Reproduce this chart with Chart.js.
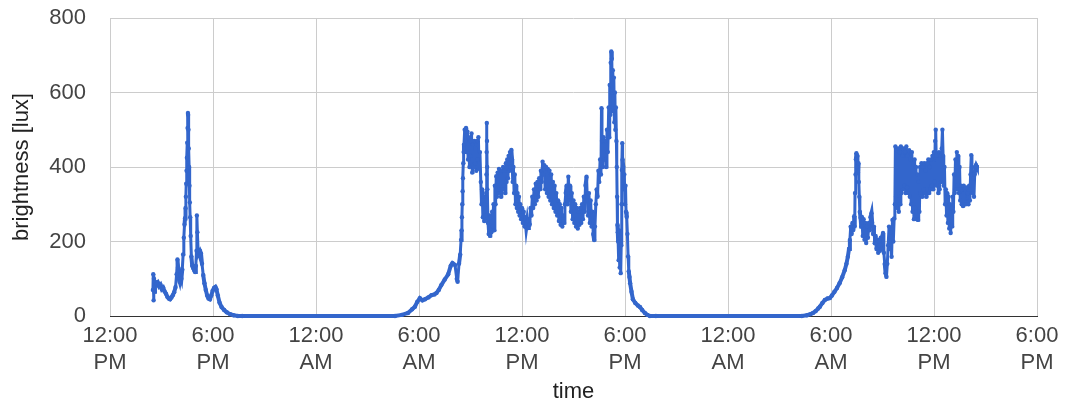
<!DOCTYPE html>
<html>
<head>
<meta charset="utf-8">
<script src="https://cdn.jsdelivr.net/npm/chart.js@4/dist/chart.umd.min.js"></script>
<style>
  html, body { margin: 0; padding: 0; background: #fff; }
  #wrap { width: 1065px; height: 408px; }
</style>
</head>
<body>
<div id="wrap"><canvas id="luxChart" width="1065" height="408"></canvas></div>
<script>
"use strict";

// hours since 12:00 PM of the first day, and brightness in lux
const day1Hours = [2.50, 2.52, 2.54, 2.56, 2.58, 2.62, 2.70, 2.78, 2.86, 2.94, 3.02, 3.10, 3.18, 3.26, 3.34, 3.42, 3.50, 3.58, 3.66, 3.74,
  3.82, 3.88, 3.93, 3.97, 4.01, 4.06, 4.11, 4.16, 4.21, 4.26, 4.30, 4.34, 4.37, 4.40, 4.42, 4.44, 4.46, 4.48, 4.50, 4.52,
  4.54, 4.55, 4.57, 4.59, 4.61, 4.63, 4.65, 4.67, 4.70, 4.74, 4.79, 4.85, 4.91, 4.96, 5.00, 5.04, 5.06, 5.09, 5.13, 5.18,
  5.24, 5.30, 5.36, 5.43, 5.50, 5.58, 5.66, 5.74, 5.82, 5.90, 5.98, 6.06, 6.14, 6.20, 6.28, 6.38, 6.50, 6.65, 6.80, 7.00,
  7.20, 7.45, 7.70];
const day1Lux = [70, 112, 42, 100, 65, 92, 86, 90, 80, 84, 72, 76, 66, 60, 52, 47, 45, 50, 56, 64,
  78, 112, 152, 130, 100, 92, 108, 100, 125, 165, 210, 245, 262, 290, 320, 355, 390, 425, 465, 505,
  545, 540, 500, 450, 400, 350, 305, 265, 215, 160, 135, 128, 122, 118, 135, 175, 270, 225, 178, 170,
  175, 168, 140, 110, 88, 70, 55, 47, 45, 55, 68, 75, 78, 72, 55, 36, 24, 16, 10, 5,
  2, 0, 0];

const day2Hours = [16.6, 17.0, 17.36, 17.6, 17.76, 17.9, 18.05, 18.2, 18.35, 18.55, 18.73, 18.9, 19.02, 19.15, 19.3, 19.5, 19.7, 19.85, 19.95, 20.1,
  20.2, 20.25, 20.33, 20.4, 20.45, 20.48, 20.50, 20.52, 20.54, 20.56, 20.58, 20.60, 20.62,
  20.66, 20.70, 20.74, 20.78, 20.82, 20.86, 20.90, 20.94, 20.98, 21.02, 21.06, 21.10, 21.14, 21.18, 21.22, 21.26, 21.30, 21.34, 21.38, 21.42, 21.46, 21.50, 21.55,
  21.60, 21.64, 21.68, 21.72, 21.76, 21.80, 21.84, 21.88, 21.92, 21.93, 21.94, 21.95, 21.96, 21.97, 21.98,
  22.02, 22.06, 22.10, 22.14, 22.18, 22.22, 22.26, 22.30,
  22.34, 22.38, 22.42, 22.46, 22.50, 22.54, 22.58, 22.62, 22.66, 22.70, 22.74, 22.78, 22.82, 22.86, 22.90, 22.94, 22.98, 23.02, 23.06, 23.10,
  23.14, 23.18, 23.22, 23.26, 23.30, 23.34, 23.38, 23.42,
  23.46, 23.50, 23.54, 23.58, 23.62, 23.66, 23.70, 23.74, 23.78, 23.82, 23.86, 23.90, 23.95, 24.00, 24.05, 24.10, 24.15, 24.20, 24.25, 24.30, 24.35, 24.40, 24.45,
  24.50, 24.55, 24.60, 24.65, 24.70, 24.75, 24.80, 24.85, 24.90, 24.95, 25.00, 25.05, 25.10, 25.15, 25.20, 25.25,
  25.30, 25.35, 25.40, 25.45, 25.50, 25.55, 25.60, 25.65, 25.70, 25.75, 25.80, 25.85, 25.90, 25.95,
  26.00, 26.05, 26.10, 26.15, 26.20, 26.25, 26.30, 26.35, 26.40, 26.45,
  26.50, 26.55, 26.60, 26.65, 26.70, 26.75, 26.80, 26.85, 26.90, 26.95, 27.00, 27.05, 27.10, 27.15, 27.20, 27.25, 27.30, 27.35, 27.40, 27.45,
  27.50, 27.55, 27.60, 27.65, 27.70, 27.76, 27.80, 27.85, 27.90, 27.95, 28.00, 28.05, 28.10, 28.15, 28.20, 28.25,
  28.30, 28.35, 28.40, 28.45, 28.50, 28.55, 28.60, 28.63, 28.66, 28.70, 28.75, 28.80, 28.85, 28.90, 28.95, 29.00,
  29.05, 29.08, 29.11, 29.14, 29.17, 29.20, 29.23, 29.26, 29.29, 29.32, 29.35, 29.38, 29.41, 29.44, 29.47, 29.50,
  29.52, 29.54, 29.56, 29.58, 29.60, 29.63, 29.66, 29.69, 29.72, 29.75, 29.78,
  29.80, 29.82, 29.84, 29.86, 29.90, 29.93, 29.96, 30.00, 30.03, 30.06, 30.10, 30.14, 30.18, 30.22, 30.26, 30.30, 30.38, 30.46, 30.60, 30.75,
  30.87, 31.00, 31.16, 31.30, 31.45, 31.80];
const day2Lux = [0, 3, 8, 18, 25, 38, 48, 42, 45, 50, 56, 58, 62, 70, 83, 98, 112, 135, 142, 137,
  100, 92, 140, 165, 204, 230, 265, 300, 335, 370, 410, 440, 460,
  500, 470, 505, 440, 495, 420, 480, 400, 470, 430, 490, 385, 460, 400, 470, 410, 450, 390, 470, 420, 480, 395, 440,
  360, 300, 340, 265, 320, 255, 300, 270, 330, 380, 440, 518, 470, 400, 340,
  250, 220, 270, 215, 265, 225, 280, 240,
  300, 230, 350, 300, 375, 320, 385, 330, 395, 340, 385, 320, 390, 340, 400, 350, 390, 330, 410, 360,
  420, 370, 430, 390, 440, 400, 446, 420,
  360, 400, 330, 380, 300, 350, 290, 330, 280, 320, 270, 300, 260, 290, 250, 280, 240, 265, 238, 255, 236, 260, 245,
  290, 270, 320, 290, 340, 300, 355, 310, 360, 320, 370, 340, 390, 360, 414, 380,
  405, 340, 400, 330, 395, 320, 390, 310, 380, 300, 360, 290, 350, 280,
  330, 270, 310, 255, 300, 245, 290, 240, 270, 250,
  300, 330, 350, 300, 374, 320, 350, 280, 330, 260, 310, 250, 300, 240, 290, 235, 280, 245, 290, 250,
  300, 260, 320, 280, 350, 374, 320, 270, 330, 250, 310, 240, 280, 220, 204, 240,
  300, 340, 320, 390, 360, 420, 380, 558, 470, 400, 480, 420, 470, 400, 500, 440,
  560, 480, 620, 540, 680, 710, 690, 600, 660, 550, 640, 520, 600, 500, 560, 470,
  400, 320, 245, 225, 200, 150, 230, 130, 210, 115, 190,
  300, 392, 464, 420, 400, 340, 380, 300, 350, 280, 266, 220, 160, 120, 105, 88, 65, 45, 35, 28,
  24, 16, 8, 3, 0, 0];

const day3Hours = [40.30, 40.60, 40.80, 40.95, 41.10, 41.25, 41.35, 41.50, 41.64, 41.80, 41.93, 42.05, 42.20, 42.35, 42.50, 42.65, 42.80, 42.90, 42.98, 43.05,
  43.10, 43.15, 43.20, 43.25, 43.30, 43.35, 43.38, 43.40, 43.43, 43.45, 43.48, 43.51, 43.54, 43.57, 43.60, 43.62, 43.65, 43.68, 43.72, 43.76,
  43.80, 43.85, 43.90, 43.95, 44.00, 44.05, 44.10, 44.15, 44.20, 44.25, 44.30, 44.36, 44.40, 44.45, 44.50, 44.55, 44.60, 44.65, 44.70, 44.75,
  44.80, 44.85, 44.90, 44.95, 45.00, 45.03, 45.08, 45.13, 45.18, 45.23, 45.28, 45.33, 45.38, 45.43, 45.48, 45.53, 45.58, 45.63, 45.68, 45.72,
  45.75, 45.79, 45.83, 45.87, 45.91, 45.95, 45.99, 46.03, 46.07, 46.11, 46.15, 46.19, 46.23, 46.27, 46.31, 46.35, 46.39, 46.43, 46.47, 46.51,
  46.55, 46.59, 46.63, 46.67, 46.71, 46.75, 46.79, 46.83, 46.87, 46.91, 46.95, 46.99, 47.03, 47.07, 47.11, 47.15,
  47.19, 47.23, 47.27, 47.31, 47.35, 47.39, 47.43, 47.47, 47.51, 47.55, 47.59, 47.63, 47.67, 47.71, 47.75, 47.79, 47.83, 47.87, 47.91, 47.95,
  47.99, 48.03, 48.07, 48.10, 48.13, 48.17, 48.21, 48.25, 48.29, 48.33, 48.37, 48.41, 48.45, 48.49, 48.53, 48.57, 48.61, 48.65,
  48.69, 48.73, 48.77, 48.81, 48.85, 48.89, 48.93, 48.97, 49.01, 49.05, 49.09, 49.13,
  49.17, 49.21, 49.25, 49.29, 49.33, 49.37, 49.41, 49.45, 49.49, 49.53,
  49.57, 49.61, 49.65, 49.69, 49.73, 49.77, 49.81, 49.85, 49.89, 49.93, 49.97, 50.01, 50.05, 50.09, 50.13, 50.17, 50.21, 50.25, 50.29, 50.33,
  50.37, 50.41, 50.45, 50.50];
const day3Lux = [0, 2, 5, 8, 13, 20, 25, 35, 43, 47, 48, 55, 65, 75, 88, 104, 123, 140, 159, 180,
  204, 240, 220, 250, 231, 268, 240, 330, 380, 420, 437, 400, 430, 385, 410, 360, 320, 280, 264, 240,
  266, 215, 260, 205, 250, 196, 240, 210, 250, 230, 265, 276, 250, 220, 240, 195, 215, 180, 205, 170,
  200, 175, 210, 180, 215, 223, 170, 140, 115, 105, 140, 190, 240, 180, 225, 159, 258, 200, 262, 300,
  455, 320, 445, 290, 450, 280, 440, 300, 455, 330, 430, 340, 450, 350, 440, 330, 455, 345, 430, 330,
  445, 320, 420, 300, 440, 280, 410, 260, 420, 290, 400, 260, 380, 258, 360, 280,
  400, 330, 410, 320, 400, 340, 410, 330, 390, 320, 410, 340, 420, 330, 400, 340, 420, 350, 430, 340,
  440, 360, 470, 500, 420, 350, 420, 330, 440, 340, 430, 360, 450, 500, 430, 350, 400, 300,
  340, 270, 330, 250, 320, 235, 300, 223, 290, 240, 320, 280,
  380, 330, 420, 340, 440, 350, 430, 330, 400, 310,
  350, 300, 340, 295, 350, 305, 340, 300, 345, 305, 330, 300, 350, 310, 380, 432, 400, 330, 370, 320,
  380, 400, 405, 400];

const xTickLabels = [['12:00', 'PM'], ['6:00', 'PM'], ['12:00', 'AM'], ['6:00', 'AM'], ['12:00', 'PM'],
  ['6:00', 'PM'], ['12:00', 'AM'], ['6:00', 'AM'], ['12:00', 'PM'], ['6:00', 'PM']];
const yTicks = [0, 200, 400, 600, 800];

const FONT = 'Arial, "Liberation Sans", sans-serif';
const BLUE = '#3366cc';

function toPoints(hours, lux) {
  return hours.map((h, i) => ({ x: h, y: lux[i] }));
}

const points = [
  ...toPoints(day1Hours, day1Lux),
  ...toPoints(day2Hours, day2Lux),
  ...toPoints(day3Hours, day3Lux),
];

// thick where the readings move slowly, a bit thinner where they jump
const segWidth = ctx => Math.abs(ctx.p1.parsed.y - ctx.p0.parsed.y) < 30 ? 4 : 3;

new Chart(document.getElementById('luxChart'), {
  type: 'scatter',
  data: {
    datasets: [{
      data: points,
      showLine: true,
      borderColor: BLUE,
      borderWidth: 3,
      segment: { borderWidth: segWidth },
      backgroundColor: BLUE,
      pointRadius: 2.2,
      pointBorderWidth: 0,
      pointHoverRadius: 2.2,
      clip: 4,
    }]
  },
  options: {
    responsive: false,
    animation: false,
    events: [],
    layout: { padding: { top: 0, right: 28, left: 0, bottom: 0 } },
    plugins: { legend: { display: false }, tooltip: { enabled: false } },
    scales: {
      x: {
        type: 'linear',
        min: 0,
        max: 54,
        afterFit: s => { s.height = 92; },
        afterBuildTicks: s => { s.ticks = xTickLabels.map((_, i) => ({ value: i * 6 })); },
        ticks: {
          autoSkip: false,
          maxRotation: 0,
          padding: 6,
          color: '#444',
          font: { family: FONT, size: 22, lineHeight: 1.23 },
          callback: (v, i) => xTickLabels[i],
        },
        grid: { color: '#cccccc', drawTicks: false },
        border: { color: '#333333', width: 1 },
        title: {
          display: true,
          text: 'time',
          color: '#222',
          font: { family: FONT, size: 22 },
          padding: { top: 0, bottom: 3 },
        },
      },
      y: {
        min: 0,
        max: 800,
        afterFit: s => { s.width = 110; s.paddingTop = 18; s.paddingBottom = 0; },
        afterBuildTicks: s => { s.ticks = yTicks.map(v => ({ value: v })); },
        ticks: {
          padding: 24,
          color: '#444',
          font: { family: FONT, size: 22 },
        },
        grid: { color: '#cccccc', drawTicks: false },
        border: { display: false },
        title: {
          display: true,
          text: 'brightness [lux]',
          color: '#222',
          font: { family: FONT, size: 22 },
          padding: { top: 9, bottom: 0 },
        },
      },
    },
  },
});
</script>
</body>
</html>
